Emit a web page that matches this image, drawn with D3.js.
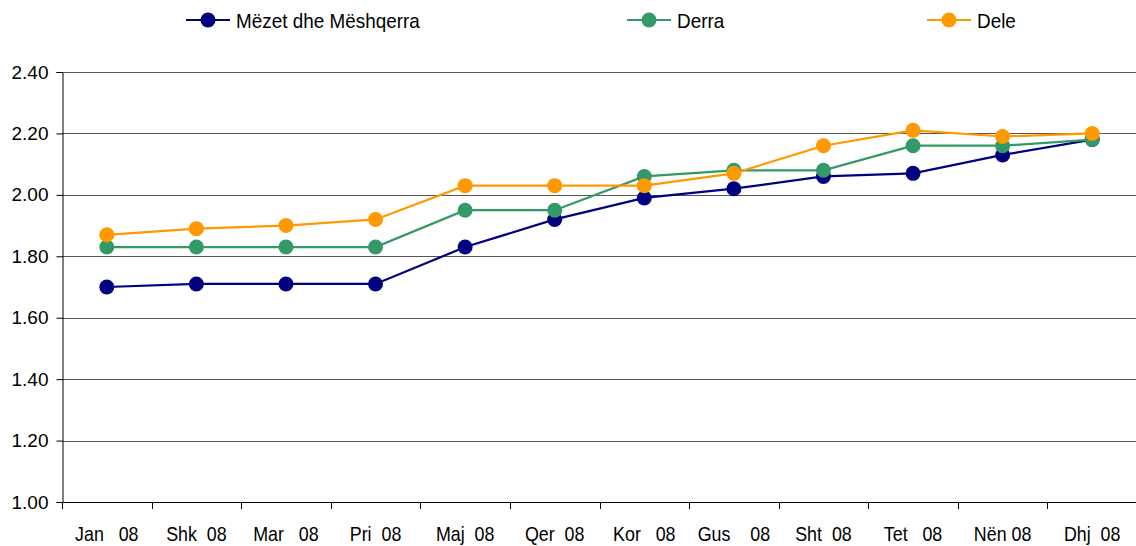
<!DOCTYPE html>
<html>
<head>
<meta charset="utf-8">
<script src="https://cdn.jsdelivr.net/npm/d3@7"></script>
<style>
  body { margin: 0; background: #fff; }
  text { font-family: "Liberation Sans", Arial, sans-serif; fill: #000; }
</style>
</head>
<body>
<svg id="chart" width="1136" height="546"></svg>
<script>
// months (x categories), spacing as in the original labels
var months = ["Jan   08", "Shk  08", "Mar   08", "Pri  08", "Maj  08", "Qer  08",
              "Kor   08", "Gus    08", "Sht  08", "Tet   08", "Nën 08", "Dhj  08"];

// series values
var mezet = [1.70, 1.71, 1.71, 1.71, 1.83, 1.92, 1.99, 2.02, 2.06, 2.07, 2.13, 2.18];
var derra = [1.83, 1.83, 1.83, 1.83, 1.95, 1.95, 2.06, 2.08, 2.08, 2.16, 2.16, 2.18];
var dele  = [1.87, 1.89, 1.90, 1.92, 2.03, 2.03, 2.03, 2.07, 2.16, 2.21, 2.19, 2.20];

var seriesNames = ["Mëzet dhe Mëshqerra", "Derra", "Dele"];
var yTicks = [1.00, 1.20, 1.40, 1.60, 1.80, 2.00, 2.20, 2.40];

var series = [
    {name: seriesNames[0], values: mezet, color: "#000080"},
    {name: seriesNames[1], values: derra, color: "#339966"},
    {name: seriesNames[2], values: dele,  color: "#FF9900"}
];

var svg = d3.select("#chart");
var plotLeft = 62, plotRight = 1137, plotTop = 72, plotBottom = 502;

var x = d3.scaleBand().domain(months).range([plotLeft, plotRight]);
var y = d3.scaleLinear().domain([1.0, 2.4]).range([plotBottom, plotTop]);

/*
 * gridlines
 */
svg.append("g")
    .selectAll("line")
    .data(yTicks.slice(1))
    .enter().append("line")
        .attr("x1", plotLeft).attr("x2", plotRight)
        .attr("y1", function(d){ return Math.round(y(d)) + 0.5; })
        .attr("y2", function(d){ return Math.round(y(d)) + 0.5; })
        .attr("stroke", "#555")
        .attr("stroke-width", 1);

/*
 * y axis
 */
var yAxis = svg.append("g")
    .attr("transform", "translate(" + (plotLeft + 0.5) + ",0)")
    .call(d3.axisLeft(y).tickValues(yTicks).tickFormat(d3.format(".2f")).tickSize(6).tickPadding(8));
yAxis.selectAll("text").style("font-size", "19px");
yAxis.selectAll("path.domain, line").attr("stroke", "#000");

/*
 * x axis: labels centred in bands, ticks on band edges
 */
var xAxis = svg.append("g")
    .attr("transform", "translate(0," + (plotBottom + 0.5) + ")")
    .call(d3.axisBottom(x).tickSize(0));
xAxis.select(".domain").remove();
xAxis.selectAll("text")
    .attr("y", 39).attr("dy", 0)
    .attr("transform", "scale(0.85,1)")
    .style("font-size", "21px")
    .style("white-space", "pre");

svg.append("line")
    .attr("x1", plotLeft).attr("x2", plotRight)
    .attr("y1", plotBottom + 0.5).attr("y2", plotBottom + 0.5)
    .attr("stroke", "#000");
svg.append("g")
    .selectAll("line")
    .data(months)
    .enter().append("line")
        .attr("x1", function(d){ return Math.round(x(d)) + 0.5; })
        .attr("x2", function(d){ return Math.round(x(d)) + 0.5; })
        .attr("y1", plotBottom).attr("y2", plotBottom + 7)
        .attr("stroke", "#000");

/*
 * lines and markers
 */
var cx = function(d, i){ return x(months[i]) + x.bandwidth() / 2; };
var line = d3.line()
    .x(cx)
    .y(function(d){ return y(d); });

series.forEach(function(s) {
    var g = svg.append("g");
    g.append("path")
        .attr("d", line(s.values))
        .attr("fill", "none")
        .attr("stroke", s.color)
        .attr("stroke-width", 2.2);
    g.selectAll("circle")
        .data(s.values)
        .enter().append("circle")
            .attr("cx", cx)
            .attr("cy", function(d){ return y(d); })
            .attr("r", 7.5)
            .attr("fill", s.color);
});

/*
 * legend
 */
var legendX = [186, 627, 927];
series.forEach(function(s, i) {
    var lg = svg.append("g").attr("transform", "translate(" + legendX[i] + ",20)");
    lg.append("line").attr("x1", 0).attr("x2", 44).attr("y1", 0).attr("y2", 0)
        .attr("stroke", s.color).attr("stroke-width", 2.2);
    lg.append("circle").attr("cx", 22).attr("cy", 0).attr("r", 7.5).attr("fill", s.color);
    lg.append("text")
        .attr("transform", "translate(50,7.5) scale(0.9,1)")
        .style("font-size", "21px")
        .text(s.name);
});
</script>
</body>
</html>
